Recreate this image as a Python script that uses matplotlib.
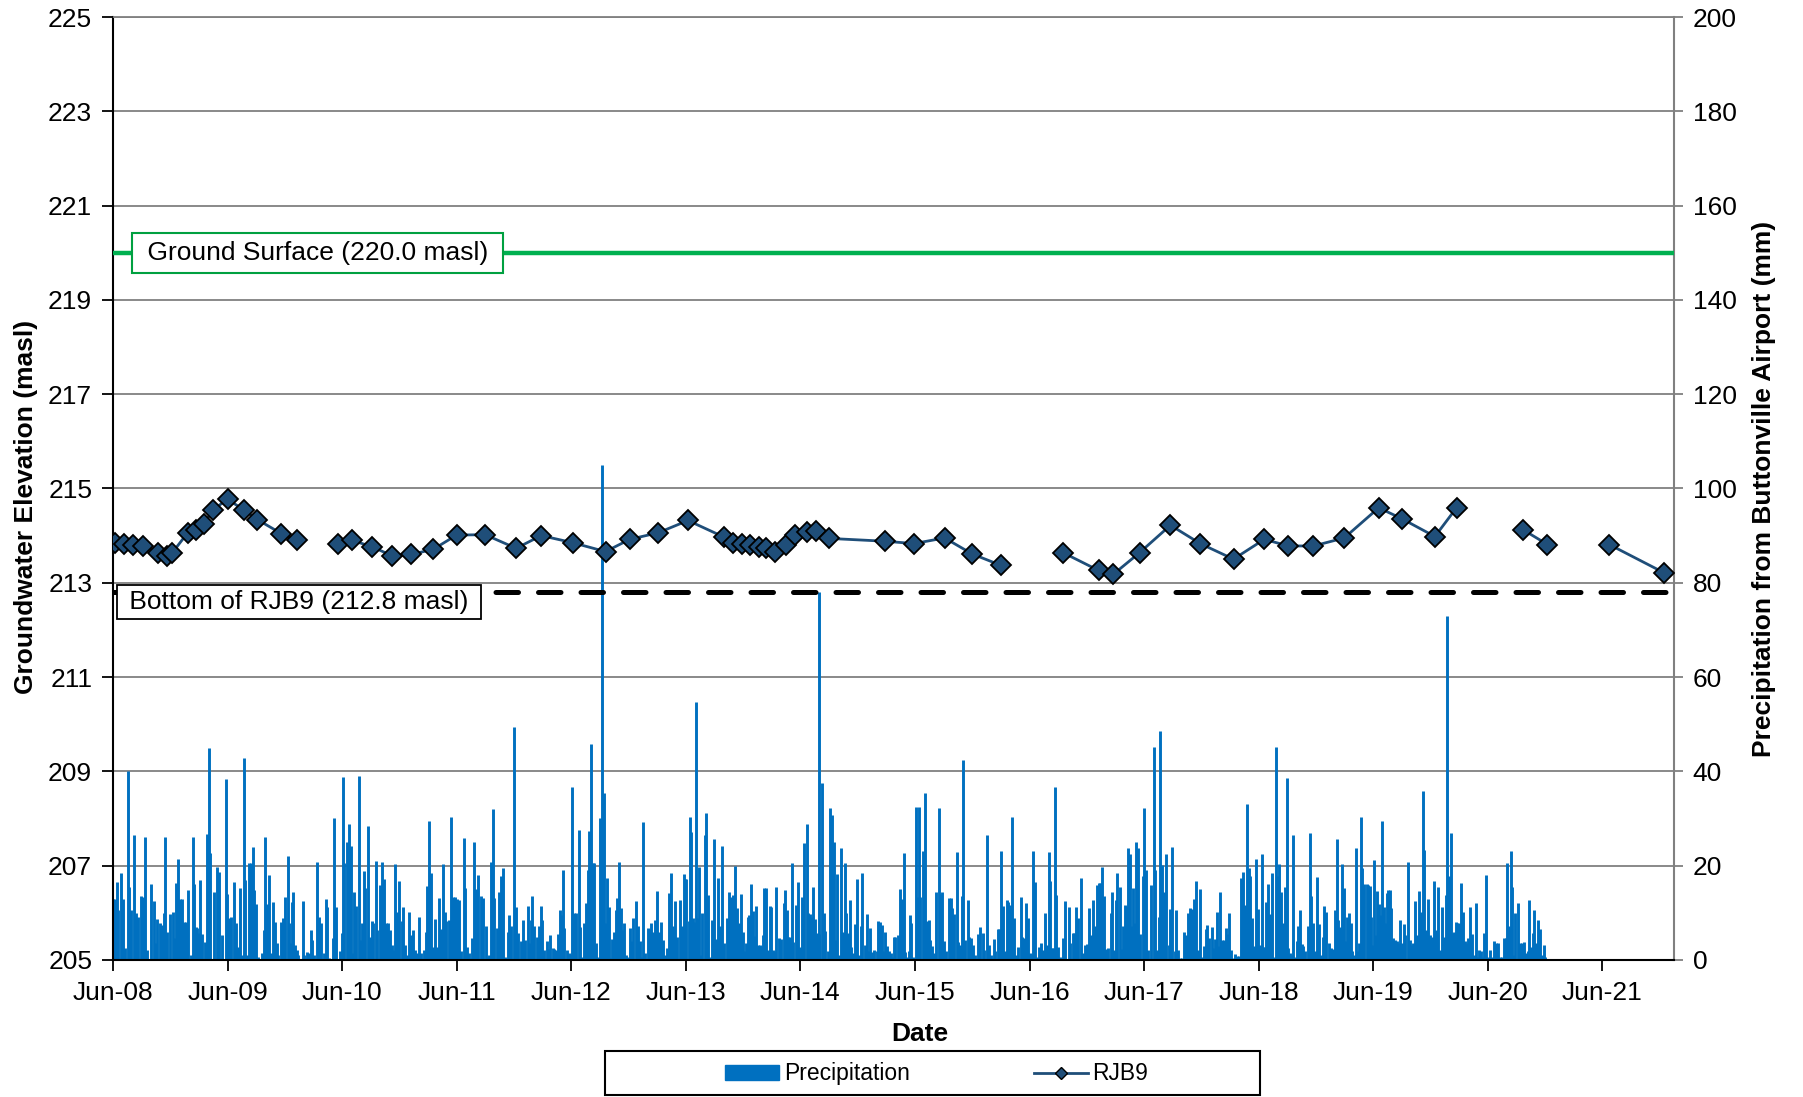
import numpy as np
import pandas as pd
import matplotlib
matplotlib.use("Agg")
import matplotlib.pyplot as plt
import matplotlib.dates as mdates
from matplotlib.patches import Patch, Rectangle
from matplotlib.lines import Line2D

plt.rcParams['font.family'] = ['Liberation Sans', 'DejaVu Sans']

# ---------------- data ----------------
rjb9_dates = [
    "2008-06-08", "2008-07-05", "2008-08-05", "2008-09-04", "2008-10-22", "2008-11-20",
    "2008-12-05", "2009-01-25", "2009-02-20", "2009-03-18", "2009-04-16", "2009-06-01",
    "2009-07-22", "2009-09-04", "2009-11-20", "2010-01-10",
    "2010-03-15",  # gap
    "2010-05-20", "2010-07-03", "2010-09-06", "2010-11-08", "2011-01-08", "2011-03-19",
    "2011-06-01", "2011-08-31", "2011-12-08", "2012-02-26", "2012-06-05", "2012-09-18",
    "2012-12-04", "2013-03-05", "2013-06-08", "2013-09-30", "2013-10-29", "2013-11-27",
    "2013-12-23", "2014-01-21", "2014-02-12", "2014-03-13", "2014-04-15", "2014-05-14",
    "2014-06-23", "2014-07-22", "2014-09-01", "2015-02-27", "2015-05-29", "2015-09-04",
    "2015-12-01", "2016-03-01",
    "2016-06-15",  # gap
    "2016-09-15", "2017-01-07", "2017-02-23", "2017-05-18", "2017-08-24", "2017-11-27",
    "2018-03-13", "2018-06-19", "2018-09-04", "2018-11-23", "2019-03-01", "2019-06-19",
    "2019-08-31", "2019-12-15", "2020-02-22",
    "2020-06-01",  # gap
    "2020-09-22", "2020-12-08",
    "2021-03-15",  # gap
    "2021-06-23", "2021-12-15",
]
rjb9_elev = [
    213.85, 213.83, 213.81, 213.78, 213.64, 213.57,
    213.62, 214.06, 214.12, 214.25, 214.55, 214.77,
    214.55, 214.34, 214.04, 213.90,
    np.nan,
    213.83, 213.90, 213.76, 213.57, 213.60, 213.71,
    214.01, 214.02, 213.73, 214.00, 213.85, 213.66,
    213.92, 214.06, 214.32, 213.97, 213.85, 213.83,
    213.80, 213.76, 213.74, 213.65, 213.79, 214.02,
    214.08, 214.10, 213.94, 213.88, 213.83, 213.95,
    213.61, 213.37,
    np.nan,
    213.64, 213.26, 213.18, 213.64, 214.22, 213.83,
    213.50, 213.92, 213.78, 213.78, 213.95, 214.59,
    214.36, 213.98, 214.59,
    np.nan,
    214.12, 213.81,
    np.nan,
    213.81, 213.21,
]

precip_start = "2008-06-01"
# day offsets from precip_start and daily precipitation (mm)
precip_day = [
    0, 6, 12, 17, 26, 31, 38, 48, 52, 57, 68, 73, 79, 89, 96, 103, 109, 120, 129, 134,
    141, 150, 155, 163, 167, 173, 182, 190, 195, 202, 208, 215, 220, 226, 233, 240, 247, 255, 258, 263,
    269, 274, 278, 285, 294, 300, 305, 310, 322, 330, 339, 347, 359, 363, 371, 377, 384, 391, 398, 405,
    412, 416, 421, 428, 435, 440, 445, 450, 455, 463, 474, 480, 484, 490, 496, 503, 510, 516, 522, 527,
    535, 542, 549, 557, 562, 565, 572, 574, 580, 585, 591, 605, 610, 617, 624, 632, 635, 642, 649, 656,
    663, 672, 678, 683, 689, 700, 704, 712, 723, 730, 732, 737, 745, 751, 757, 764, 768, 774, 783, 787,
    794, 799, 804, 814, 819, 824, 830, 837, 842, 851, 857, 864, 870, 875, 882, 888, 893, 899, 905, 913,
    920, 925, 931, 938, 944, 951, 957, 962, 970, 976, 982, 991, 998, 1002, 1008, 1013, 1021, 1025, 1032, 1038,
    1044, 1052, 1057, 1063, 1070, 1078, 1085, 1090, 1097, 1103, 1109, 1118, 1122, 1127, 1135, 1140, 1144, 1151, 1157, 1165,
    1172, 1179, 1188, 1193, 1199, 1206, 1211, 1216, 1223, 1230, 1237, 1243, 1249, 1258, 1263, 1270, 1279, 1284, 1292, 1299,
    1306, 1312, 1323, 1327,
    1331, 1337, 1343, 1350, 1357, 1365, 1369, 1375, 1382, 1388, 1394, 1401, 1407, 1412, 1420, 1425, 1430, 1434, 1439, 1446,
    1452, 1458, 1464, 1470, 1476, 1484, 1489, 1495, 1500, 1507, 1513, 1517, 1523, 1529, 1534, 1541, 1547, 1551, 1558, 1564,
    1569, 1574, 1580, 1585, 1590, 1597, 1602, 1607, 1613, 1618, 1623, 1630, 1636, 1641, 1648, 1654, 1659, 1666, 1672, 1679,
    1686, 1691, 1697, 1704, 1709, 1716, 1721, 1727, 1735, 1740, 1748, 1754, 1759, 1766, 1772, 1779, 1786, 1792, 1798, 1807,
    1813, 1819, 1824, 1828, 1836, 1840, 1844, 1849, 1853, 1857, 1862, 1868, 1873, 1878, 1886, 1891, 1897, 1904, 1910, 1915,
    1921, 1928, 1935, 1942, 1947, 1956, 1963, 1969, 1976, 1982, 1988, 1994,
    2001, 2007, 2012, 2017, 2024, 2029, 2034, 2039, 2045, 2049, 2056, 2061, 2066, 2073, 2076, 2081, 2088, 2094, 2098, 2105,
    2109, 2115, 2123, 2130, 2138, 2141, 2147, 2153, 2158, 2163, 2168, 2176, 2180, 2185, 2191, 2197, 2203, 2212, 2216, 2222,
    2227, 2232, 2238, 2245, 2249, 2252, 2259, 2266, 2271, 2278, 2287, 2293, 2298, 2302, 2307, 2313, 2320, 2326, 2333, 2338,
    2344, 2349, 2354, 2360, 2365, 2372, 2378, 2383, 2389, 2397, 2403, 2407, 2414, 2419, 2425, 2434, 2438, 2445, 2450, 2454,
    2462, 2466, 2473, 2479, 2483, 2489, 2494, 2501, 2508, 2515, 2520, 2524, 2530, 2536, 2540, 2545, 2551, 2559, 2565, 2569,
    2574, 2581, 2585, 2589, 2595, 2600, 2606, 2610, 2617, 2625, 2633, 2636, 2642, 2649, 2657, 2664,
    2670, 2675, 2682, 2689, 2695, 2700, 2706, 2711, 2716, 2724, 2729, 2735, 2742, 2749, 2757, 2765, 2772, 2778, 2785, 2793,
    2799, 2807, 2813, 2820, 2826, 2830, 2836, 2843, 2849, 2854, 2861, 2866, 2871, 2878, 2885, 2893, 2899, 2905, 2911, 2916,
    2922, 2927, 2933, 2939, 2946, 2952, 2959, 2965, 2971, 2978, 2983, 2987, 2993, 2998, 3003, 3007, 3014, 3020, 3027, 3036,
    3046, 3052, 3060, 3065, 3070, 3077, 3085, 3092, 3099, 3105, 3112, 3118, 3123, 3130, 3137, 3142, 3147, 3152, 3158, 3165,
    3172, 3180, 3185, 3191, 3197, 3202, 3209, 3215, 3221, 3225, 3231, 3237, 3241, 3247, 3252, 3257, 3262, 3269, 3275, 3282,
    3287, 3292, 3300, 3310, 3317, 3322, 3327, 3334,
    3339, 3344, 3350, 3358, 3365, 3371, 3377, 3384, 3390, 3395, 3403, 3409, 3414, 3420, 3426, 3433, 3440, 3445, 3453, 3459,
    3464, 3472, 3477, 3484, 3489, 3494, 3502, 3508, 3514, 3520, 3525, 3530, 3536, 3542, 3547, 3553, 3559, 3565, 3571, 3577,
    3583, 3590, 3595, 3601, 3608, 3614, 3620, 3625, 3631, 3638, 3644, 3649, 3656, 3662, 3667, 3673, 3677, 3683, 3689, 3695,
    3701, 3706, 3712, 3718, 3725, 3730, 3736, 3742, 3747, 3753, 3758, 3762, 3767, 3773, 3778, 3783, 3790, 3795, 3801, 3808,
    3815, 3820, 3827, 3833, 3839, 3845, 3850, 3856, 3862, 3868, 3876, 3883, 3888, 3894, 3901, 3906, 3912, 3918, 3923, 3929,
    3934, 3940, 3946, 3951, 3957, 3964, 3968, 3972, 3979, 3983, 3988, 3996, 4002,
    4008, 4011, 4015, 4020, 4025, 4031, 4036, 4041, 4046, 4051, 4056, 4061, 4066, 4071, 4075, 4082, 4087, 4093, 4099, 4104,
    4108, 4114, 4120, 4128, 4135, 4140, 4144, 4150, 4157, 4162, 4169, 4175, 4179, 4185, 4191, 4197, 4204, 4210, 4216, 4223,
    4229, 4238, 4244, 4248, 4253, 4258, 4264, 4270, 4275, 4280, 4286, 4291, 4297, 4304, 4309, 4314, 4321, 4327, 4332, 4338,
    4344, 4349, 4356, 4360, 4365, 4372, 4378, 4383, 4391, 4396, 4401, 4409, 4415, 4420, 4427, 4433, 4440, 4445, 4450, 4456,
    4460, 4466, 4471, 4480, 4486, 4492, 4498, 4503, 4510, 4514, 4520, 4527, 4531, 4536, 4542, 4548, 4554, 4561, 4564,
]
precip_mm = [
    13, 13, 16.6, 10.6, 18.5, 13, 2.5, 40, 15.5, 10.6, 26.5, 10, 9, 13.6, 13.3, 26, 2, 16, 12.5, 3.5,
    8.6, 7.8, 7.4, 10, 26, 6, 9.7, 10.2, 4.6, 16.4, 21.5, 12.9, 12.9, 8.1, 8.1, 14.8, 1, 26, 16, 7,
    6.7, 5.6, 17, 5.4, 3.7, 26.7, 45, 22.7, 14.3, 19.8, 18.6, 5.3, 38.4, 14, 8.8, 9.2, 16.6, 7.8, 2.8, 15.2,
    1, 42.8, 17, 1, 20.6, 20.5, 24, 14.8, 11.8, 0.7, 1.4, 6.4, 26, 11.9, 17.9, 1.4, 12.2, 8.1, 3.5, 1,
    8.1, 8.8, 13.4, 22, 7.8, 3.5, 12.2, 14.5, 3.2, 2.1, 1, 12.5, 1, 1.6, 1.4, 6.4, 4.2, 1, 20.8, 9.2,
    7.8, 1.4, 12.9, 11.2, 0.4, 4.6, 30, 11.2, 1.8, 5.8, 38.7, 20.5, 25, 28.8, 24.2, 1.4, 14.3, 11.4, 38.9, 4.2,
    7.8, 18.9, 15.2, 28.5, 4.8, 8.3, 7.8, 21, 6.4, 15.9, 20.8, 17.1, 7.9, 7.8, 6.4, 3.2, 2.1, 20.3, 10.2, 16.8,
    8.3, 11.2, 3.2, 1, 10.2, 5.3, 6.4, 2.1, 1.4, 9, 1.4, 2.1, 5.9, 15.7, 29.5, 18.5, 2.8, 8.6, 2.8, 13.1,
    6.6, 20.3, 10.2, 8.3, 8.5, 30.4, 13.3, 13.3, 12.9, 12.7, 1.8, 25.8, 15.3, 2.8, 1.4, 0.4, 4.6, 24.9, 15, 18,
    13.6, 13.1, 7.1, 0.7, 1, 20.8, 32, 13.1, 6.7, 14.5, 17.8, 19.4, 0.7, 6, 9.5, 7.1, 49.3, 11.3, 5.7, 3.9,
    8.5, 4.2, 11.5, 3.5,
    8.5, 13.6, 7.1, 4.8, 7.2, 11.4, 8.5, 2.1, 4.1, 2.3, 5.2, 2.5, 2.3, 2, 5.5, 10.6, 9.5, 19.1, 6.7, 2.1,
    1.4, 1.3, 36.7, 10, 10, 27.6, 6.9, 0.7, 7.8, 12, 19.1, 27.4, 45.8, 20.6, 20.6, 3.5, 0.7, 30.2, 105, 35.3,
    7.8, 17.3, 11.3, 0.4, 4.4, 6, 10.6, 13.1, 20.8, 11, 6.4, 7.8, 1, 0.7, 6.7, 3.9, 8.8, 12.5, 7.2, 3.9,
    0.7, 29.2, 1.4, 6.7, 6.6, 7.8, 6, 8.5, 14.6, 6, 8.1, 4.2, 1, 2.6, 14.1, 18.5, 7.1, 12.4, 4.9, 12.6,
    7.1, 18.2, 17.2, 17.2, 8.3, 30.4, 27.2, 8.8, 8.1, 54.8, 8.8, 19.8, 1, 10, 26.4, 31.2, 13.8, 0.7, 8.5, 25.6,
    4.4, 17.3, 7.1, 24.2, 3.5, 8.8, 14.3, 13.3, 13.8, 20, 11, 7.8,
    14, 6, 1.8, 3.5, 9, 9.5, 16, 10.4, 5.1, 11.4, 3.2, 3.2, 3, 5.3, 15.2, 15.2, 2.1, 11.5, 11.3, 2.1,
    1.8, 15.5, 4.6, 4.4, 12, 14.8, 10.6, 4.8, 4.9, 20.6, 3.7, 11.7, 9.8, 16.5, 2.8, 13.3, 24.7, 28.8, 9.9, 9.7,
    9.2, 15.5, 8.6, 5.7, 5.5, 78, 37.5, 10, 6.2, 1.8, 32.2, 30.7, 25.1, 4.2, 18.2, 1, 23.7, 6, 20.5, 10,
    5.7, 12.6, 2.8, 1.4, 7.6, 17.2, 1, 7.1, 18.4, 3.2, 9.8, 1.8, 6.8, 1.6, 2.1, 1.8, 8.3, 8, 7.4, 1.8,
    6, 3, 1.8, 1.4, 0.7, 4.8, 4.9, 5.3, 15, 12.9, 22.6, 1.6, 0.7, 1.8, 9.5, 7.8, 0.7, 32.5, 13.4, 32.5,
    13.3, 23, 15, 35.5, 8.3, 8.5, 4.2, 3, 1.4, 14.3, 32.2, 14, 14.3, 4, 1.8, 13.1,
    13.1, 11, 9.8, 22.8, 3.7, 3.2, 13.6, 42.3, 4.2, 12.6, 4.8, 4.6, 3.2, 1, 5.4, 6.9, 5.8, 2.1, 26.4, 3.2,
    1, 4.4, 1.8, 6.5, 6.5, 23.2, 11.4, 1.8, 12.6, 12.2, 11.7, 30.4, 8.8, 1, 2.8, 13.3, 4.9, 4.6, 12, 8.8,
    1.4, 1.3, 23, 16.5, 0.7, 2.8, 3.5, 2.1, 10, 3.2, 22.8, 16.7, 2.5, 2.5, 36.6, 13.8, 2.8, 0.7, 4.6, 12.5,
    11.2, 3.5, 5.7, 5.8, 11.3, 8.8, 17.3, 1.4, 3.2, 3.4, 11, 5.3, 12.7, 7.2, 15.8, 16.3, 16.4, 19.6, 13.6, 2.3,
    2.6, 10, 14.4, 2.1, 12.6, 18.5, 15.5, 2.3, 7.2, 11.7, 11.5, 23.8, 22.5, 7.1, 15.2, 7.8, 24.9, 23.8, 5.5, 17.7,
    32.3, 19.1, 2.1, 15.9, 45.1, 19.1, 2.1, 9.2,
    48.6, 20.1, 14.3, 22.5, 3.2, 10.7, 23.9, 1.8, 10.5, 2.1, 0.4, 0.4, 5.9, 5.3, 10, 11, 10.8, 12.9, 16.8, 2.1,
    15, 0.7, 3, 6.5, 7.4, 4.6, 6.9, 2.5, 4.4, 10.2, 3, 14.5, 4.2, 4.2, 6.7, 5.5, 10, 2.1, 0.4, 1.2,
    0.9, 0.8, 17.3, 18.6, 11.7, 33.1, 19.4, 17.8, 8.8, 3, 21.3, 10.7, 3.2, 22.5, 2.8, 2.7, 12.2, 16, 9.8, 18.5,
    0.7, 45.1, 17.8, 20.4, 14.5, 7.9, 15.4, 38.5, 2.6, 1.4, 1, 26.4, 0.7, 3.9, 7.1, 10.6, 3.3, 3, 1.8, 7.1,
    27, 13.6, 7.8, 1.8, 17.5, 7.6, 1, 4.9, 11.4, 10.2, 3.5, 2.5, 2.3, 10.6, 25.6, 8.5, 6.9, 20.4, 15.2, 4.1,
    9, 10, 7.8, 1.9, 1, 23.7, 1.8, 3.5, 30.4, 19.4, 16, 16.1, 15.9,
    15.7, 9, 3.2, 21.2, 5.3, 14.6, 11.8, 9.5, 29.5, 11.3, 7.9, 14.1, 14.8, 14.8, 11, 4.6, 4.2, 4.1, 3.5, 8.5,
    3.5, 7.6, 5.3, 20.8, 4.2, 3.2, 3.5, 12.4, 5.3, 14.6, 10.2, 35.9, 23.3, 6.4, 12.9, 5.3, 4.9, 16.8, 6.4, 15.5,
    2.1, 11.3, 4.8, 13.8, 73, 17.7, 27, 5.8, 6, 8.1, 7.8, 7.8, 16.3, 10.2, 3.9, 3.5, 4.6, 11.2, 5.5, 1,
    12, 0.7, 2, 1.8, 0.7, 5.8, 18, 0.7, 2, 0.7, 3.9, 3.5, 3.5, 0.7, 0.7, 4.7, 4.6, 20.5, 7.1, 23.2,
    15.4, 1, 10, 12, 3.5, 3.5, 3.7, 1.4, 1.8, 12.6, 2.7, 5.7, 10.5, 3.5, 8.5, 6.5, 1, 3.2, 0.7,
]

ground_surface = 220.0
well_bottom = 212.8
x_start, x_end = "2008-06-01", "2022-01-15"
tick_years = list(range(2008, 2022))

# ---------------- plot ----------------
fig = plt.figure(figsize=(18.03, 10.97), dpi=100)
ax2 = fig.add_axes([0.0627, 0.125, 0.8657, 0.8595])   # precipitation (right)
ax = ax2.twinx()
ax.yaxis.set_label_position('left')
ax.yaxis.tick_left()
ax2.yaxis.tick_right()
ax2.yaxis.set_label_position('right')
ax.set_zorder(ax2.get_zorder() + 1)
ax.patch.set_visible(False)

pdates = pd.Timestamp(precip_start) + pd.to_timedelta(np.array(precip_day), unit='D')
ax2.vlines(pdates, 0, precip_mm, color='#0070C0', linewidth=2.1, zorder=2)
ax2.set_ylim(0, 200)
ax2.set_yticks(np.arange(0, 201, 20))
ax2.grid(axis='y', color='#808080', linewidth=1.3, zorder=0)
ax2.set_axisbelow(True)

rd = pd.to_datetime(rjb9_dates)
ax.plot(rd, rjb9_elev, color='#1F4E79', linewidth=2.0, marker='D', markersize=10,
        markerfacecolor='#1F4E79', markeredgecolor='black', markeredgewidth=1.3, zorder=5)
ax.axhline(ground_surface, color='#00B050', linewidth=3.2, zorder=3)
ax.axhline(well_bottom, color='black', linewidth=3.6, linestyle=(0, (4.5, 4.0)),
           dash_capstyle='round', zorder=3)

ax.set_ylim(205, 225)
ax.set_yticks(np.arange(205, 226, 2))
xl = (pd.Timestamp(x_start), pd.Timestamp(x_end))
ax.set_xlim(xl)
ax2.set_xlim(xl)
ticks = [pd.Timestamp(f"{y}-06-01") for y in tick_years]
ax2.set_xticks(ticks)
ax2.xaxis.set_major_formatter(mdates.DateFormatter('%b-%y'))
ax.set_xticks(ticks)
ax.tick_params(axis='x', bottom=False, labelbottom=False)

fs = 19
ax.tick_params(axis='y', labelsize=fs, length=8, width=1.3, pad=7, color='black')
ax2.tick_params(axis='y', labelsize=fs, length=6.5, width=1.3, pad=7, color='#808080')
ax2.tick_params(axis='x', labelsize=fs, length=8, width=1.3, pad=7, color='black')

for s in ('top', 'right', 'left', 'bottom'):
    ax.spines[s].set_visible(False)
ax2.spines['left'].set_color('black')
ax2.spines['left'].set_linewidth(1.5)
ax2.spines['bottom'].set_color('black')
ax2.spines['bottom'].set_linewidth(1.5)
ax2.spines['top'].set_color('#808080')
ax2.spines['top'].set_linewidth(1.3)
ax2.spines['right'].set_color('#808080')
ax2.spines['right'].set_linewidth(1.5)

ax.set_ylabel('Groundwater Elevation (masl)', fontsize=fs, fontweight='bold')
ax.yaxis.set_label_coords(-0.048, 0.48)
ax2.set_ylabel('Precipitation from Buttonville Airport (mm)', fontsize=fs, fontweight='bold')
ax2.yaxis.set_label_coords(1.05, 0.5)
ax2.set_xlabel('Date', fontsize=fs, fontweight='bold')
ax2.xaxis.set_label_coords(0.517, -0.066)

ax.text(0.017, ground_surface, ' Ground Surface (220.0 masl) ', transform=ax.get_yaxis_transform(),
        fontsize=fs, va='center', ha='left', zorder=6,
        bbox=dict(boxstyle='square,pad=0.3', fc='white', ec='#00A040', lw=1.5))
ax.text(0.006, 212.59, ' Bottom of RJB9 (212.8 masl) ', transform=ax.get_yaxis_transform(),
        fontsize=fs, va='center', ha='left', zorder=6,
        bbox=dict(boxstyle='square,pad=0.2', fc='white', ec='black', lw=1.3))

# legend
fig.patches.append(Rectangle((0.3355, 0.0015), 0.3633, 0.0405, transform=fig.transFigure,
                             fill=False, ec='black', lw=1.5))
handles = [Patch(facecolor='#0070C0', edgecolor='#0070C0'),
           Line2D([], [], color='#1F4E79', lw=2.0, marker='D', markersize=6,
                  markerfacecolor='#1F4E79', markeredgecolor='black')]
fig.legend(handles, ['Precipitation', 'RJB9'], loc='center', bbox_to_anchor=(0.5195, 0.021),
           ncol=2, frameon=False, fontsize=16.5, handlelength=2.36, handleheight=0.6,
           handletextpad=0.2, columnspacing=5.4)

fig.savefig('out.png', dpi=100)
